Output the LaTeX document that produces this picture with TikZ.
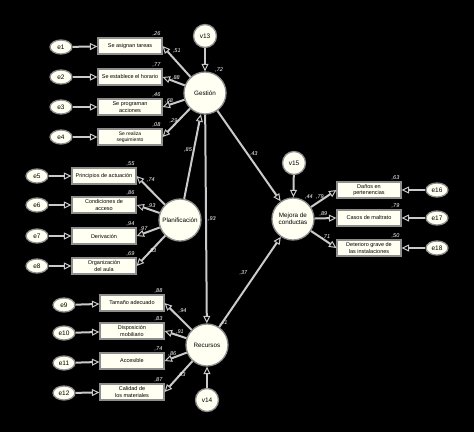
\documentclass[tikz,border=0pt]{standalone}
\usepackage{fontspec}
\setmainfont{Liberation Sans}
\usetikzlibrary{arrows.meta,shapes.geometric}
\definecolor{nodefill}{HTML}{FFFFF2}
\definecolor{edgegray}{HTML}{CACACA}
\definecolor{rimgray}{HTML}{8E8E8E}
\begin{document}
\begin{tikzpicture}[
		x=1pt, y=-1pt,
		latent/.style={circle, draw=rimgray, fill=nodefill, line width=1.3pt, minimum size=42pt, inner sep=0pt, align=center, font=\fontsize{6.3}{7.3}\selectfont},
		dist/.style={circle, draw=rimgray, fill=nodefill, line width=1.3pt, minimum size=23pt, inner sep=0pt, font=\fontsize{6.5}{7}\selectfont},
		err/.style={ellipse, draw=rimgray, fill=nodefill, line width=1.3pt, minimum width=22pt, minimum height=14pt, inner sep=0pt, font=\fontsize{6.5}{7}\selectfont},
		item/.style={rectangle, draw=rimgray, fill=nodefill, line width=1.1pt, minimum width=64pt, minimum height=16pt, inner sep=2pt, align=center, font=\fontsize{5.5}{6.5}\selectfont},
		reg/.style={draw=edgegray, line width=2pt, -{Triangle[open, length=7.5pt, width=7pt, line width=1pt]}},
		coef/.style={text=white, font=\fontsize{5.5}{5.5}\selectfont\itshape, inner sep=1pt},
		rsq/.style={label={[coef, anchor=south east, xshift=-1pt]north east:{#1}}}
	]
	\useasboundingbox (0,0) rectangle (474,432);
	\fill[black] (0,0) rectangle (474,432);

	% Gestion
	\node[dist] (v13) at (205,36) {v13};
	\node[latent, label={[coef]65:{,72}}] (ges) at (205,93) {Gestión};
	\node[item, rsq={,26}] (b1) at (130,46) {Se asignan tareas};
	\node[item, rsq={,77}] (b2) at (130,77) {Se establece el horario};
	\node[item, rsq={,46}] (b3) at (130,107) {Se programan\\acciones};
	\node[item, rsq={,08}, font=\fontsize{5}{6}\selectfont] (b4) at (130,137) {Se realiza\\seguimiento};
	\node[err] (e1) at (61,47) {e1};
	\node[err] (e2) at (61,77) {e2};
	\node[err] (e3) at (61,107) {e3};
	\node[err] (e4) at (61,137) {e4};

	% Planificacion
	\node[latent] (pla) at (180,220) {Planificación};
	\node[item, rsq={,55}] (b5) at (104,176) {Principios de actuación};
	\node[item, rsq={,86}] (b6) at (104,205) {Condiciones de\\acceso};
	\node[item, rsq={,94}] (b7) at (104,236) {Derivación};
	\node[item, rsq={,69}] (b8) at (104,266) {Organización\\del aula};
	\node[err] (e5) at (37,176) {e5};
	\node[err] (e6) at (37,205) {e6};
	\node[err] (e7) at (37,236) {e7};
	\node[err] (e8) at (37,266) {e8};

	% Recursos
	\node[latent, label={[coef]58:{,41}}] (rec) at (207,345) {Recursos};
	\node[dist] (v14) at (207,400) {v14};
	\node[item, rsq={,88}] (b9) at (132,303) {Tamaño adecuado};
	\node[item, rsq={,83}] (b10) at (132,331) {Disposición\\mobiliario};
	\node[item, rsq={,74}] (b11) at (132,361) {Accesible};
	\node[item, rsq={,87}] (b12) at (132,392) {Calidad de\\los materiales};
	\node[err] (e9) at (64,305) {e9};
	\node[err] (e10) at (64,333) {e10};
	\node[err] (e11) at (64,363) {e11};
	\node[err] (e12) at (64,393) {e12};

	% Mejora de conductas
	\node[latent, label={[coef]60:{,44}}] (mej) at (293,219) {Mejora de\\conductas};
	\node[dist] (v15) at (294,163) {v15};
	\node[item, rsq={,63}] (b16) at (369,190) {Daños en\\pertenencias};
	\node[item, rsq={,79}] (b17) at (369,218) {Casos de maltrato};
	\node[item, rsq={,50}] (b18) at (369,248) {Deterioro grave de\\las instalaciones};
	\node[err] (e16) at (437,190) {e16};
	\node[err] (e17) at (437,218) {e17};
	\node[err] (e18) at (437,248) {e18};

	% errors to indicators
	\draw[reg] (e1) -- (b1);
	\draw[reg] (e2) -- (b2);
	\draw[reg] (e3) -- (b3);
	\draw[reg] (e4) -- (b4);
	\draw[reg] (e5) -- (b5);
	\draw[reg] (e6) -- (b6);
	\draw[reg] (e7) -- (b7);
	\draw[reg] (e8) -- (b8);
	\draw[reg] (e9) -- (b9);
	\draw[reg] (e10) -- (b10);
	\draw[reg] (e11) -- (b11);
	\draw[reg] (e12) -- (b12);
	\draw[reg] (e16) -- (b16);
	\draw[reg] (e17) -- (b17);
	\draw[reg] (e18) -- (b18);

	% loadings
	\draw[reg] (ges) -- node[coef, pos=0.7, above right] {,51} (b1.east);
	\draw[reg] (ges) -- node[coef, pos=0.4, above] {,88} (b2.east);
	\draw[reg] (ges) -- node[coef, pos=0.7, above] {,68} (b3.east);
	\draw[reg] (ges) -- node[coef, pos=0.6, above] {,29} (b4.east);
	\draw[reg] (pla) -- node[coef, pos=0.7, above right] {,74} (b5.east);
	\draw[reg] (pla) -- node[coef, pos=0.35, above] {,93} (b6.east);
	\draw[reg] (pla) -- node[coef, pos=0.7, above] {,97} (b7.east);
	\draw[reg] (pla) -- node[coef, pos=0.65, above right] {,83} (b8.east);
	\draw[reg] (rec) -- node[coef, pos=0.55, above right] {,94} (b9.east);
	\draw[reg] (rec) -- node[coef, pos=0.3, above] {,91} (b10.east);
	\draw[reg] (rec) -- node[coef, pos=0.65, above] {,86} (b11.east);
	\draw[reg] (rec) -- node[coef, pos=0.6, above right] {,93} (b12.east);
	\draw[reg] (mej) -- node[coef, pos=0.35, above] {,79} (b16.west);
	\draw[reg] (mej) -- node[coef, pos=0.4, above] {,89} (b17.west);
	\draw[reg] (mej) -- node[coef, pos=0.6, above] {,71} (b18.west);

	% disturbances and structural paths
	\draw[reg] (v13) -- (ges);
	\draw[reg] (v14) -- (rec);
	\draw[reg] (v15) -- (mej);
	\draw[reg] (pla) -- node[coef, pos=0.58, left] {,85} (ges);
	\draw[reg] (ges) -- node[coef, pos=0.5, right] {,93} (rec);
	\draw[reg] (ges) -- node[coef, pos=0.48, right] {,43} (mej);
	\draw[reg] (rec) -- node[coef, pos=0.6, left=7pt] {,37} (mej);
\end{tikzpicture}
\end{document}
